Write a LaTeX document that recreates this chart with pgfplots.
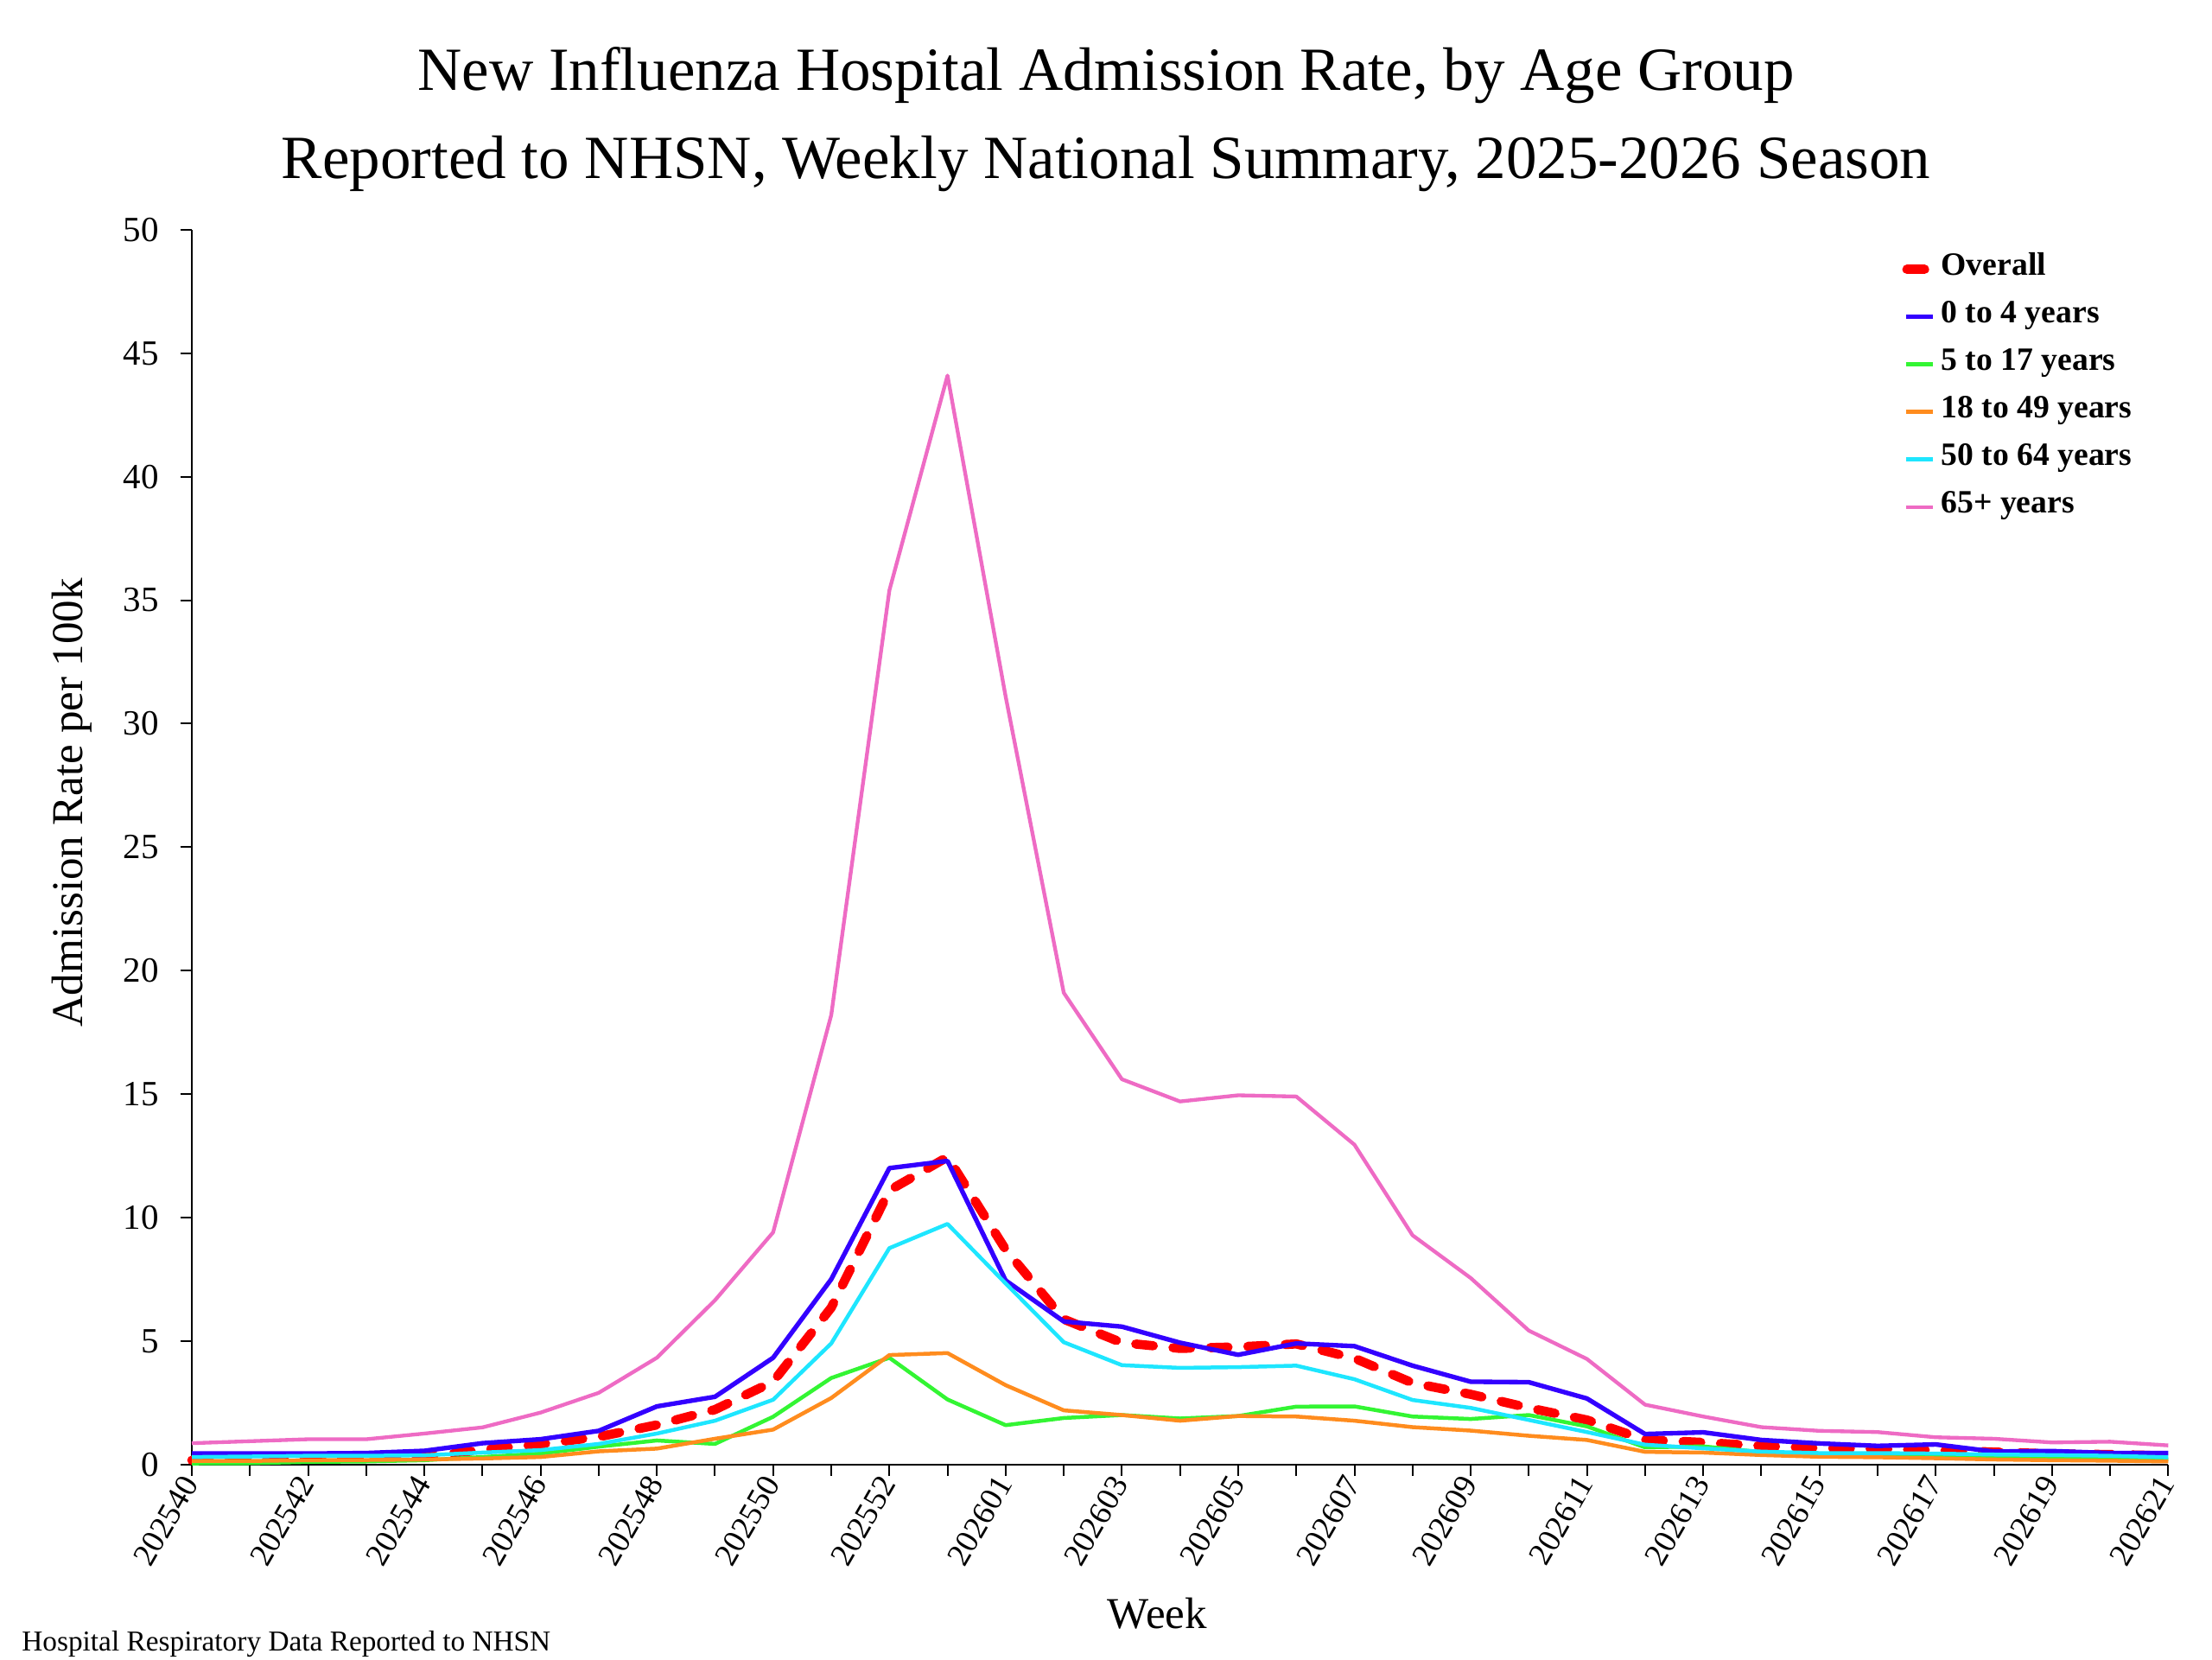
\documentclass[border=0pt]{standalone}
\usepackage{pgfplots}
\pgfplotsset{compat=1.18}
\usepackage{fontspec}
\setmainfont{Liberation Serif}
\definecolor{cOver}{RGB}{255,0,0}
\definecolor{cA}{RGB}{51,0,255}
\definecolor{cB}{RGB}{51,245,51}
\definecolor{cC}{RGB}{255,140,30}
\definecolor{cD}{RGB}{30,230,255}
\definecolor{cE}{RGB}{238,107,196}
\begin{document}
\begin{tikzpicture}
\path[use as bounding box] (0,0) rectangle (768pt,576pt);
\node[anchor=base,font=\fontsize{21.3}{24}\selectfont] at (384pt,544.5pt) {New Influenza Hospital Admission Rate, by Age Group};
\node[anchor=base,font=\fontsize{21.3}{24}\selectfont] at (384pt,514pt) {Reported to NHSN, Weekly National Summary, 2025-2026 Season};
\node[anchor=base west,font=\fontsize{10}{12}\selectfont,inner sep=0pt] at (7.4pt,3pt) {Hospital Respiratory Data Reported to NHSN};
\begin{axis}[
  at={(66.6pt,67.6pt)}, anchor=south west,
  scale only axis, width=686.2pt, height=428.6pt,
  xmin=0, xmax=34, ymin=0, ymax=50,
  axis lines=left, axis line style={-, black, line width=0.6pt},
  tick align=outside, major tick length=4pt, minor tick length=4pt,
  tick style={black, line width=0.6pt},
  xtick={0,2,...,34},
  minor xtick={1,3,...,33},
  xticklabels={202540,202542,202544,202546,202548,202550,202552,202601,202603,202605,202607,202609,202611,202613,202615,202617,202619,202621},
  ytick={0,5,...,50},
  /pgf/number format/assume math mode=true,
  yticklabel style={font=\fontsize{12.3}{14}\selectfont, xshift=-4pt},
  xticklabel style={font=\fontsize{11.2}{13}\selectfont, rotate=60, anchor=east, inner sep=1pt},
  xlabel={Week}, ylabel={Admission Rate per 100k},
  label style={font=\fontsize{15.3}{17}\selectfont},
  xlabel style={at={(axis description cs:0.4885,-0.1332)}, anchor=base},
  ylabel style={at={(axis description cs:-0.0551,0.536)}, anchor=base, rotate=0},
  legend cell align=left,
  legend image code/.code={\draw[#1] (0pt,0pt) -- (9.5pt,0pt);},
  legend style={at={(rel axis cs:0.8646,0.9813)}, anchor=north west, draw=none, fill=none,
    inner sep=0pt, row sep=5.5pt, column sep=1.2pt,
    font=\bfseries\fontsize{11.3}{13}\selectfont,
    nodes={inner sep=0pt, text height=7.5pt, text depth=3.5pt}},
  clip=false,
]
\addplot[cOver, line width=3.2pt, dash pattern=on 6.1pt off 6.9pt, line cap=round, line join=round,
  legend image code/.code={\draw[cOver, line width=3.2pt, line cap=round] (0.4pt,0pt) -- (8.6pt,0pt); \path (0pt,0pt) (9.5pt,0pt);}]
  coordinates {(0,0.17)(1,0.2)(2,0.24)(3,0.26)(4,0.3)(5,0.6)(6,0.82)(7,1.12)(8,1.6)(9,2.22)(10,3.35)(11,6.35)(12,11.1)(13,12.45)(14,8.7)(15,5.88)(16,4.93)(17,4.7)(18,4.76)(19,4.88)(20,4.3)(21,3.3)(22,2.84)(23,2.29)(24,1.8)(25,1.0)(26,0.89)(27,0.75)(28,0.66)(29,0.63)(30,0.58)(31,0.5)(32,0.43)(33,0.4)(34,0.35)};
\addlegendentry{Overall}
\addplot[cA, line width=1.6pt, line join=round]
  coordinates {(0,0.44)(1,0.44)(2,0.44)(3,0.46)(4,0.55)(5,0.86)(6,1.02)(7,1.36)(8,2.35)(9,2.74)(10,4.32)(11,7.5)(12,12.0)(13,12.29)(14,7.45)(15,5.79)(16,5.58)(17,4.93)(18,4.44)(19,4.9)(20,4.79)(21,4.0)(22,3.35)(23,3.33)(24,2.67)(25,1.23)(26,1.3)(27,0.99)(28,0.85)(29,0.75)(30,0.81)(31,0.52)(32,0.54)(33,0.46)(34,0.46)};
\addlegendentry{0 to 4 years}
\addplot[cB, line width=1.35pt, line join=round]
  coordinates {(0,0.04)(1,0.05)(2,0.1)(3,0.12)(4,0.17)(5,0.3)(6,0.44)(7,0.72)(8,0.97)(9,0.83)(10,1.93)(11,3.5)(12,4.32)(13,2.63)(14,1.59)(15,1.88)(16,2.0)(17,1.86)(18,1.96)(19,2.34)(20,2.35)(21,1.94)(22,1.84)(23,2.0)(24,1.54)(25,0.69)(26,0.73)(27,0.5)(28,0.4)(29,0.37)(30,0.35)(31,0.31)(32,0.29)(33,0.25)(34,0.2)};
\addlegendentry{5 to 17 years}
\addplot[cC, line width=1.35pt, line join=round]
  coordinates {(0,0.14)(1,0.14)(2,0.17)(3,0.18)(4,0.2)(5,0.24)(6,0.3)(7,0.53)(8,0.64)(9,1.04)(10,1.41)(11,2.69)(12,4.43)(13,4.51)(14,3.21)(15,2.19)(16,2.0)(17,1.77)(18,1.96)(19,1.94)(20,1.77)(21,1.51)(22,1.37)(23,1.16)(24,0.99)(25,0.51)(26,0.48)(27,0.38)(28,0.31)(29,0.29)(30,0.25)(31,0.2)(32,0.17)(33,0.15)(34,0.12)};
\addlegendentry{18 to 49 years}
\addplot[cD, line width=1.35pt, line join=round]
  coordinates {(0,0.3)(1,0.32)(2,0.35)(3,0.35)(4,0.37)(5,0.48)(6,0.58)(7,0.83)(8,1.25)(9,1.77)(10,2.62)(11,4.9)(12,8.76)(13,9.74)(14,7.33)(15,4.95)(16,4.02)(17,3.91)(18,3.94)(19,4.0)(20,3.45)(21,2.61)(22,2.29)(23,1.8)(24,1.31)(25,0.8)(26,0.65)(27,0.52)(28,0.46)(29,0.46)(30,0.44)(31,0.4)(32,0.38)(33,0.35)(34,0.29)};
\addlegendentry{50 to 64 years}
\addplot[cE, line width=1.3pt, line join=round]
  coordinates {(0,0.86)(1,0.94)(2,1.02)(3,1.02)(4,1.25)(5,1.5)(6,2.1)(7,2.9)(8,4.32)(9,6.65)(10,9.4)(11,18.2)(12,35.4)(13,44.1)(14,31.1)(15,19.1)(16,15.6)(17,14.7)(18,14.95)(19,14.9)(20,12.95)(21,9.28)(22,7.55)(23,5.42)(24,4.27)(25,2.42)(26,1.94)(27,1.51)(28,1.36)(29,1.31)(30,1.1)(31,1.04)(32,0.89)(33,0.92)(34,0.77)};
\addlegendentry{65+ years}
\end{axis}
\end{tikzpicture}
\end{document}
